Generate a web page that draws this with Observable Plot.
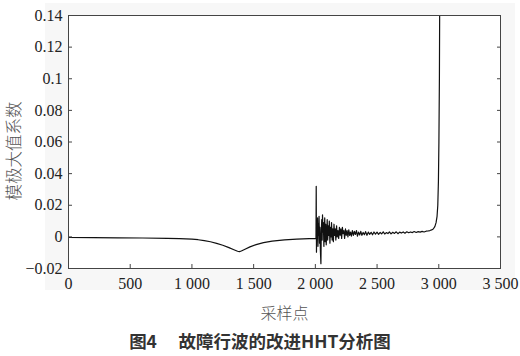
<!DOCTYPE html>
<html><head><meta charset="utf-8">
<script src="https://cdn.jsdelivr.net/npm/d3@7"></script>
<script src="https://cdn.jsdelivr.net/npm/@observablehq/plot@0.6"></script>
<style>
body{margin:0;background:#fff;}
#wrap{position:relative;width:520px;height:356px;overflow:hidden;}
#bg{position:absolute;left:45px;top:3px;width:470px;height:287px;background:#f7f7f7;}
#chart{position:absolute;left:0;top:0;}
#title{position:absolute;left:0;top:330px;width:520px;text-align:center;font-family:"Noto Sans CJK SC";font-weight:bold;font-size:17.5px;line-height:22px;color:#333;}
</style></head><body>
<div id="wrap"><div id="bg"></div><div id="chart"></div><div id="title"></div></div>
<script>
const samples = [0,200,400,600,800,900,1000,1050,1100,1150,1200,1250,1300,1340,1370,1385,1400,1430,1470,1520,1580,1650,1750,1850,1950,2005,2007,
 2009,2012,2015,2018,2021,2024,2027,2030,2034,2037,
 2041,2045,2048,2052,2055,2058,2062,2065,2069,2073,
 2076,2080,2084,2088,2092,2096,2100,2105,2109,2113,
 2118,2122,2127,2131,2136,2141,2146,2151,2156,2161,
 2166,2172,2177,2183,2189,2195,2201,2207,2213,2219,
 2225,2231,2237,2244,2250,2257,2264,2271,2278,2285,
 2292,2300,2308,2316,2324,2333,2341,2350,2359,2368,
 2377,2387,2397,2407,2418,2429,2440,2452,2463,2475,
 2487,2500,2512,2525,2537,2550,2562,2575,2588,2600,
 2613,2627,2641,2655,2669,2683,2697,2712,2726,2741,
 2756,2771,2786,2801,2817,2833,2849,2865,2881,2897,
 2913,2928,2942,2955,2968,2978,2986,2992,2997,3001,
 3005,3008];
const values = [-0.0004,-0.0005,-0.0006,-0.0007,-0.0009,-0.0011,-0.0014,-0.0018,-0.0024,-0.0031,-0.0041,-0.0053,-0.0068,-0.0081,-0.0091,-0.0093,-0.0089,-0.0078,-0.0063,-0.0049,-0.0036,-0.0027,-0.0019,-0.0014,-0.0011,-0.0010,0.032,
 -0.0097,0.010,0.002,0.012,-0.006,0.008,0.001,0.013,-0.004,0.006,
 -0.009,-0.017,0.004,0.011,-0.002,0.014,0.003,0.009,-0.006,0.005,
 0.012,-0.003,0.008,-0.005,0.002,0.011,-0.002,0.007,0.001,0.010,
 -0.004,0.006,0.000,0.009,-0.002,0.005,-0.003,0.008,0.001,0.005,
 -0.002,0.007,0.000,0.004,-0.001,0.006,0.001,0.005,-0.001,0.006,
 0.002,0.004,-0.001,0.005,0.001,0.004,0.000,0.0045,0.001,0.003,
 0.0005,0.004,0.001,0.0035,0.0015,0.004,0.0005,0.003,0.0012,0.0035,
 0.001,0.0028,0.0014,0.0033,0.001,0.003,0.0016,0.0029,0.0013,0.0031,
 0.0017,0.003,0.0016,0.0028,0.0019,0.0032,0.0018,0.0027,0.0021,0.0031,
 0.0019,0.0029,0.0022,0.0032,0.002,0.003,0.0024,0.0031,0.0023,0.0032,
 0.0026,0.0031,0.0027,0.0034,0.0028,0.0033,0.003,0.0035,0.0031,0.0036,
 0.0037,0.004,0.0044,0.005,0.0065,0.009,0.013,0.02,0.035,0.06,
 0.1,0.16];
const xTicks = [0,500,1000,1500,2000,2500,3000,3500];
const xTickLabels = ["0","500","1 000","1 500","2 000","2 500","3 000","3 500"];
const yTicks = [-0.02,0,0.02,0.04,0.06,0.08,0.1,0.12,0.14];
const yTickLabels = ["\u22120.02","0","0.02","0.04","0.06","0.08","0.1","0.12","0.14"];
const xLabel = "采样点";
const yLabel = "模极大值系数";
const title = "图4\u3000 故障行波的改进HHT分析图";

const data = samples.map((s, i) => ({s, v: values[i]}));
const fx = d => xTickLabels[xTicks.indexOf(d)];
const fy = d => yTickLabels[yTicks.indexOf(d)];
const cjk = {fontFamily: "Noto Sans CJK SC", fontSize: 16, fill: "#555", fontWeight: 300};

const plot = Plot.plot({
  width: 520, height: 322,
  marginLeft: 68, marginRight: 20, marginTop: 15, marginBottom: 54,
  style: {background: "transparent", fontFamily: "Liberation Serif", fontSize: "16px", color: "#222", overflow: "visible"},
  x: {domain: [0, 3500]},
  y: {domain: [-0.02, 0.14]},
  marks: [
    Plot.frame({fill: "white", stroke: null}),
    Plot.line(data, {x: "s", y: "v", stroke: "#111", strokeWidth: 1.2, clip: true}),
    Plot.axisX({ticks: xTicks, tickSize: -4, text: null, label: null, stroke: "#444"}),
    Plot.axisX({ticks: xTicks, tickSize: 0, tickPadding: 9, tickFormat: fx, label: null, fill: "#222"}),
    Plot.axisX({ticks: [], tickSize: 0, text: null, label: xLabel, labelAnchor: "center", labelArrow: "none", labelOffset: 50, ...cjk}),
    Plot.axisY({ticks: yTicks, tickSize: -4, text: null, label: null, stroke: "#444"}),
    Plot.axisY({anchor: "right", ticks: yTicks, tickSize: -4, text: null, label: null, stroke: "#444"}),
    Plot.axisY({ticks: yTicks, tickSize: 0, tickPadding: 6, tickFormat: fy, label: null, fill: "#222"}),
    Plot.axisY({ticks: [], tickSize: 0, text: null, label: yLabel, labelAnchor: "center", labelArrow: "none", labelOffset: 60, ...cjk, fontSize: 16.5}),
    Plot.frame({stroke: "#444", strokeWidth: 1})
  ]
});
const yl = plot.querySelector('g[aria-label="y-axis label"]');
if (yl) yl.setAttribute("transform", "translate(0,9) " + (yl.getAttribute("transform") || ""));
document.getElementById("chart").appendChild(plot);
document.getElementById("title").textContent = title;
</script>
</body></html>
